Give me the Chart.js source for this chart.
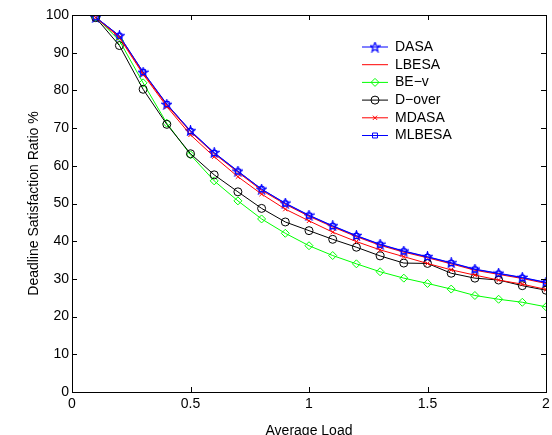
<!DOCTYPE html>
<html lang="en">
<head>
    <meta charset="UTF-8">
    <title>Deadline Satisfaction Ratio</title>
    <script src="https://cdn.jsdelivr.net/npm/chart.js"></script>
    <style>
        html, body {
            margin: 0;
            padding: 0;
            background: #FFFFFF;
        }
        canvas {
            display: block;
        }
    </style>
</head>
<body>
    <canvas id="ratioChart" width="552" height="435"></canvas>

    <script>
        // average load values (x)
        const loads = [0.1, 0.2, 0.3, 0.4, 0.5, 0.6, 0.7, 0.8, 0.9, 1.0,
                       1.1, 1.2, 1.3, 1.4, 1.5, 1.6, 1.7, 1.8, 1.9, 2.0];

        const dasa   = [99.4, 94.5, 84.8, 76.3, 69.3, 63.5, 58.6, 53.8, 50.1, 46.9, 44.1, 41.5, 39.2, 37.4, 35.9, 34.3, 32.6, 31.5, 30.4, 29.1];
        const lbesa  = [99.4, 94.3, 84.6, 76.1, 69.0, 63.2, 58.3, 53.5, 49.8, 46.6, 43.8, 41.2, 38.9, 37.1, 35.6, 34.0, 32.3, 31.2, 30.1, 28.8];
        const bev    = [99.5, 93.2, 82.0, 71.3, 62.9, 56.0, 50.7, 45.9, 42.1, 38.8, 36.2, 34.0, 31.9, 30.2, 28.8, 27.3, 25.6, 24.6, 23.8, 22.6];
        const dover  = [99.3, 91.9, 80.3, 71.0, 63.2, 57.6, 53.1, 48.7, 45.1, 42.8, 40.5, 38.4, 36.1, 34.2, 34.1, 31.5, 30.2, 29.7, 28.2, 27.0];
        const mdasa  = [99.3, 94.0, 84.3, 75.7, 68.2, 62.4, 57.1, 52.5, 48.5, 45.4, 42.4, 39.9, 37.7, 35.9, 34.1, 32.4, 31.0, 29.7, 28.6, 27.2];
        const mlbesa = [99.4, 94.5, 84.9, 76.4, 69.2, 63.4, 58.5, 53.8, 50.0, 46.8, 44.0, 41.4, 39.1, 37.3, 35.8, 34.2, 32.5, 31.4, 30.3, 29.0];

        const xTicks = [0, 0.5, 1, 1.5, 2];
        const yTicks = [0, 10, 20, 30, 40, 50, 60, 70, 80, 90, 100];

        const FONT = "'Liberation Sans', Arial, sans-serif";

        // matlab style pentagram marker
        function makeStar(color) {
            const c = document.createElement('canvas');
            c.width = 11; c.height = 11;
            const g = c.getContext('2d');
            g.strokeStyle = color;
            g.lineWidth = 1.2;
            g.beginPath();
            for (let i = 0; i < 10; i++) {
                const r = i % 2 === 0 ? 5 : 2.1;
                const a = -Math.PI / 2 + i * Math.PI / 5;
                const px = 5.5 + r * Math.cos(a);
                const py = 5.8 + r * Math.sin(a);
                if (i === 0) g.moveTo(px, py); else g.lineTo(px, py);
            }
            g.closePath();
            g.stroke();
            return c;
        }

        function toPoints(vals) {
            return loads.map((x, i) => ({ x: x, y: vals[i] }));
        }

        function series(label, vals, color, style, radius) {
            return {
                label: label,
                data: toPoints(vals),
                borderColor: color,
                backgroundColor: 'rgba(0,0,0,0)',
                borderWidth: 1,
                pointStyle: style,
                pointRadius: radius,
                pointBorderColor: color,
                pointBackgroundColor: 'rgba(0,0,0,0)',
                pointBorderWidth: 1,
                tension: 0
            };
        }

        const datasets = [
            series('DASA', dasa, '#0000FF', makeStar('#0000FF'), 5),
            series('LBESA', lbesa, '#FF0000', false, 0),
            series('BE\u2212v', bev, '#00FF00', 'rectRot', 4),
            series('D\u2212over', dover, '#000000', 'circle', 4),
            series('MDASA', mdasa, '#FF0000', 'crossRot', 3),
            series('MLBESA', mlbesa, '#0000FF', 'rect', 3.5)
        ];
        // matlab draws later lines on top
        datasets.forEach((d, i) => { d.order = datasets.length - i; });

        const boxAndLegend = {
            id: 'boxAndLegend',
            afterDraw(chart) {
                const ctx = chart.ctx;
                const a = chart.chartArea;
                const xs = chart.scales.x;
                const ys = chart.scales.y;
                ctx.save();
                ctx.strokeStyle = '#000';
                ctx.lineWidth = 1;
                ctx.strokeRect(Math.round(a.left) + 0.5, Math.round(a.top) + 0.5,
                    Math.round(a.right - a.left), Math.round(a.bottom - a.top));
                ctx.beginPath();
                xTicks.forEach(v => {
                    const px = Math.round(xs.getPixelForValue(v)) + 0.5;
                    ctx.moveTo(px, a.bottom); ctx.lineTo(px, a.bottom - 5);
                    ctx.moveTo(px, a.top); ctx.lineTo(px, a.top + 5);
                });
                yTicks.forEach(v => {
                    const py = Math.round(ys.getPixelForValue(v)) + 0.5;
                    ctx.moveTo(a.left, py); ctx.lineTo(a.left + 5, py);
                    ctx.moveTo(a.right, py); ctx.lineTo(a.right - 5, py);
                });
                ctx.stroke();

                // legend
                ctx.font = '14px ' + FONT;
                ctx.textBaseline = 'middle';
                ctx.fillStyle = '#000';
                chart.data.datasets.forEach((d, i) => {
                    const y = 47 + i * 17.7;
                    ctx.strokeStyle = d.borderColor;
                    ctx.lineWidth = 1;
                    ctx.beginPath();
                    ctx.moveTo(362, y); ctx.lineTo(388, y);
                    ctx.stroke();
                    if (d.pointStyle) {
                        ctx.strokeStyle = d.pointBorderColor;
                        ctx.fillStyle = 'rgba(0,0,0,0)';
                        Chart.helpers.drawPoint(ctx, {
                            pointStyle: d.pointStyle,
                            radius: d.pointRadius,
                            rotation: 0,
                            borderWidth: 1
                        }, 375, y);
                    }
                    ctx.fillStyle = '#000';
                    ctx.fillText(d.label, 395, y);
                });
                ctx.restore();
            }
        };

        new Chart(document.getElementById('ratioChart'), {
            type: 'line',
            data: { datasets: datasets },
            options: {
                responsive: false,
                animation: false,
                layout: { padding: { top: 15, right: 5, left: 0, bottom: 0 } },
                plugins: {
                    legend: { display: false },
                    tooltip: { enabled: false }
                },
                scales: {
                    x: {
                        type: 'linear',
                        min: 0,
                        max: 2,
                        afterBuildTicks(scale) { scale.ticks = xTicks.map(v => ({ value: v })); },
                        afterFit(scale) {
                            scale.height = 43;
                            scale.paddingLeft = 0;
                            scale.paddingRight = 0;
                        },
                        grid: { display: false, drawTicks: false, tickLength: 0 },
                        border: { display: false },
                        ticks: {
                            color: '#000',
                            padding: 4,
                            maxRotation: 0,
                            callback: v => String(v),
                            font: { family: FONT, size: 14 }
                        },
                        title: {
                            display: true,
                            text: 'Average Load',
                            color: '#000',
                            padding: { top: 0, bottom: -5 },
                            font: { family: FONT, size: 14 }
                        }
                    },
                    y: {
                        min: 0,
                        max: 100,
                        afterBuildTicks(scale) { scale.ticks = yTicks.map(v => ({ value: v })); },
                        afterFit(scale) {
                            scale.width = 72;
                            scale.paddingTop = 0;
                            scale.paddingBottom = 0;
                        },
                        grid: { display: false, drawTicks: false, tickLength: 0 },
                        border: { display: false },
                        ticks: {
                            color: '#000',
                            padding: 3,
                            callback: v => String(v),
                            font: { family: FONT, size: 14 }
                        },
                        title: {
                            display: true,
                            text: 'Deadline Satisfaction Ratio %',
                            color: '#000',
                            padding: { top: 26, bottom: 0 },
                            font: { family: FONT, size: 14 }
                        }
                    }
                }
            },
            plugins: [boxAndLegend]
        });
    </script>
</body>
</html>
